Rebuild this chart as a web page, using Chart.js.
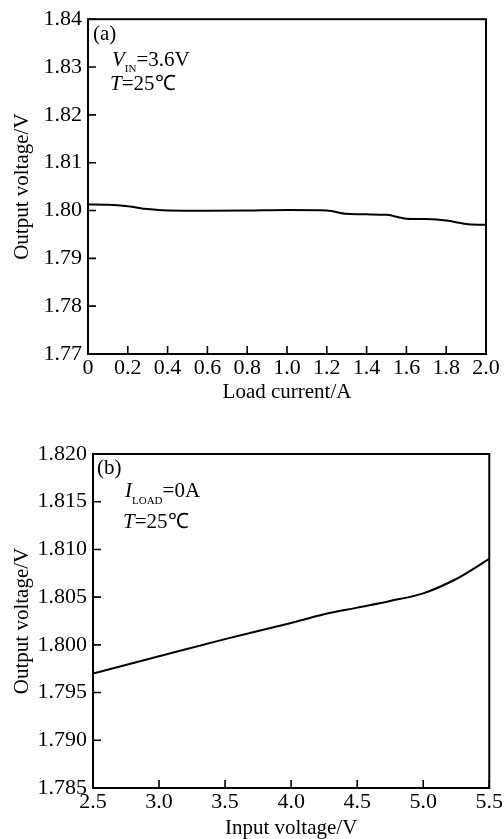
<!DOCTYPE html>
<html>
<head>
<meta charset="utf-8">
<script src="https://cdn.jsdelivr.net/npm/chart.js@4.4.0/dist/chart.umd.min.js"></script>
<style>
    html, body { margin: 0; padding: 0; background: #fff; }
    body { width: 504px; height: 839px; position: relative; overflow: hidden; }
    .box { position: absolute; left: 0; width: 504px; }
    #boxA { top: 0; height: 420px; }
    #boxB { top: 420px; height: 419px; }
</style>
</head>
<body>
<div class="box" id="boxA"><canvas id="chartA" width="504" height="420"></canvas></div>
<div class="box" id="boxB"><canvas id="chartB" width="504" height="419"></canvas></div>
<script>
// (a) output voltage vs load current
const loadCurrent = [0, 0.1, 0.2, 0.3, 0.4, 0.6, 0.8, 1.0, 1.2, 1.3, 1.4, 1.5, 1.6, 1.7, 1.8, 1.9, 2.0];
const outputA = [1.80125, 1.8012, 1.8009, 1.8003, 1.8000, 1.79995, 1.8000, 1.8001, 1.8000, 1.7993, 1.7992, 1.7991, 1.7983, 1.7982, 1.7979, 1.7972, 1.7970];
const xTicksA = [0, 0.2, 0.4, 0.6, 0.8, 1.0, 1.2, 1.4, 1.6, 1.8, 2.0];
const xLabelsA = ['0', '0.2', '0.4', '0.6', '0.8', '1.0', '1.2', '1.4', '1.6', '1.8', '2.0'];
const yTicksA = [1.77, 1.78, 1.79, 1.80, 1.81, 1.82, 1.83, 1.84];
const yLabelsA = ['1.77', '1.78', '1.79', '1.80', '1.81', '1.82', '1.83', '1.84'];

// (b) output voltage vs input voltage
const inputVoltage = [2.5, 3.0, 3.5, 4.0, 4.25, 4.5, 4.75, 5.0, 5.25, 5.5];
const outputB = [1.7970, 1.7988, 1.8006, 1.8023, 1.8032, 1.8039, 1.8046, 1.8054, 1.8069, 1.8090];
const xTicksB = [2.5, 3.0, 3.5, 4.0, 4.5, 5.0, 5.5];
const xLabelsB = ['2.5', '3.0', '3.5', '4.0', '4.5', '5.0', '5.5'];
const yTicksB = [1.785, 1.790, 1.795, 1.800, 1.805, 1.810, 1.815, 1.820];
const yLabelsB = ['1.785', '1.790', '1.795', '1.800', '1.805', '1.810', '1.815', '1.820'];

const SERIF = "'Liberation Serif', 'Times New Roman', serif";
const serif = size => size + 'px ' + SERIF;
const italic = size => 'italic ' + size + 'px ' + SERIF;

// box frame, inward tick marks and the text notes in the corner
function framePlugin(notes) {
    return {
        id: 'frame',
        afterDraw(chart) {
            const ctx = chart.ctx;
            const a = chart.chartArea;
            const x = chart.scales.x, y = chart.scales.y;
            ctx.save();
            ctx.strokeStyle = '#000';
            ctx.lineWidth = 1.6;
            ctx.beginPath();
            x.ticks.forEach(t => {
                const px = x.getPixelForValue(t.value);
                ctx.moveTo(px, a.bottom);
                ctx.lineTo(px, a.bottom - 8);
            });
            y.ticks.forEach(t => {
                const py = y.getPixelForValue(t.value);
                ctx.moveTo(a.left, py);
                ctx.lineTo(a.left + 8, py);
            });
            ctx.stroke();
            ctx.lineWidth = 2;
            ctx.strokeRect(a.left, a.top, a.right - a.left, a.bottom - a.top);

            ctx.fillStyle = '#000';
            ctx.textAlign = 'left';
            ctx.textBaseline = 'alphabetic';
            notes.forEach(line => {
                let cx = a.left + line.dx;
                line.parts.forEach(p => {
                    ctx.font = p.font;
                    ctx.fillText(p.text, cx, a.top + line.dy + (p.shift || 0));
                    cx += ctx.measureText(p.text).width;
                });
            });
            ctx.restore();
        }
    };
}

function makeChart(id, xs, ys, cfg) {
    const ctx = document.getElementById(id).getContext('2d');
    return new Chart(ctx, {
        type: 'line',
        data: {
            datasets: [{
                data: xs.map((v, i) => ({ x: v, y: ys[i] })),
                borderColor: '#000',
                borderWidth: 2,
                pointRadius: 0,
                cubicInterpolationMode: 'monotone',
                fill: false
            }]
        },
        options: {
            responsive: false,
            animation: false,
            layout: { padding: cfg.padding },
            plugins: {
                legend: { display: false },
                tooltip: { enabled: false }
            },
            scales: {
                x: {
                    type: 'linear',
                    min: cfg.xTicks[0],
                    max: cfg.xTicks[cfg.xTicks.length - 1],
                    grid: { display: false, drawTicks: false },
                    border: { display: false },
                    afterBuildTicks: s => { s.ticks = cfg.xTicks.map(v => ({ value: v })); },
                    afterFit: s => { s.height = cfg.xHeight; },
                    ticks: {
                        autoSkip: false,
                        maxRotation: 0,
                        padding: 1,
                        color: '#000',
                        font: { family: SERIF, size: 22 },
                        callback: (v, i) => cfg.xLabels[i]
                    },
                    title: {
                        display: true,
                        text: cfg.xTitle,
                        color: '#000',
                        font: { family: SERIF, size: 21, lineHeight: 1.0 },
                        padding: { top: 0, bottom: cfg.xTitlePad }
                    }
                },
                y: {
                    min: cfg.yTicks[0],
                    max: cfg.yTicks[cfg.yTicks.length - 1],
                    grid: { display: false, drawTicks: false },
                    border: { display: false },
                    afterBuildTicks: s => { s.ticks = cfg.yTicks.map(v => ({ value: v })); },
                    afterFit: s => { s.width = cfg.yWidth; },
                    ticks: {
                        padding: 6,
                        color: '#000',
                        font: { family: SERIF, size: 22 },
                        callback: (v, i) => cfg.yLabels[i]
                    },
                    title: {
                        display: true,
                        text: 'Output voltage/V',
                        color: '#000',
                        font: { family: SERIF, size: 21, lineHeight: 1.0 },
                        padding: { top: 12, bottom: 0 }
                    }
                }
            }
        },
        plugins: [framePlugin(cfg.notes)]
    });
}

makeChart('chartA', loadCurrent, outputA, {
    xTicks: xTicksA, xLabels: xLabelsA, yTicks: yTicksA, yLabels: yLabelsA,
    xTitle: 'Load current/A', xTitlePad: 17,
    xHeight: 66, yWidth: 88,
    padding: { top: 18, right: 18, bottom: 0, left: 0 },
    notes: [
        { dx: 5, dy: 21, parts: [{ text: '(a)', font: serif(21) }] },
        { dx: 24, dy: 47, parts: [
            { text: 'V', font: italic(21) },
            { text: 'IN', font: serif(11), shift: 6 },
            { text: '=3.6V', font: serif(21) }
        ] },
        { dx: 22, dy: 71, parts: [
            { text: 'T', font: italic(21) },
            { text: '=25\u2103', font: serif(21) }
        ] }
    ]
});

makeChart('chartB', inputVoltage, outputB, {
    xTicks: xTicksB, xLabels: xLabelsB, yTicks: yTicksB, yLabels: yLabelsB,
    xTitle: 'Input voltage/V', xTitlePad: 0,
    xHeight: 51, yWidth: 93,
    padding: { top: 34, right: 14, bottom: 0, left: 0 },
    notes: [
        { dx: 4, dy: 20, parts: [{ text: '(b)', font: serif(21) }] },
        { dx: 32, dy: 43, parts: [
            { text: 'I', font: italic(21) },
            { text: 'LOAD', font: serif(11), shift: 7 },
            { text: '=0A', font: serif(21) }
        ] },
        { dx: 30, dy: 74, parts: [
            { text: 'T', font: italic(21) },
            { text: '=25\u2103', font: serif(21) }
        ] }
    ]
});
</script>
</body>
</html>
